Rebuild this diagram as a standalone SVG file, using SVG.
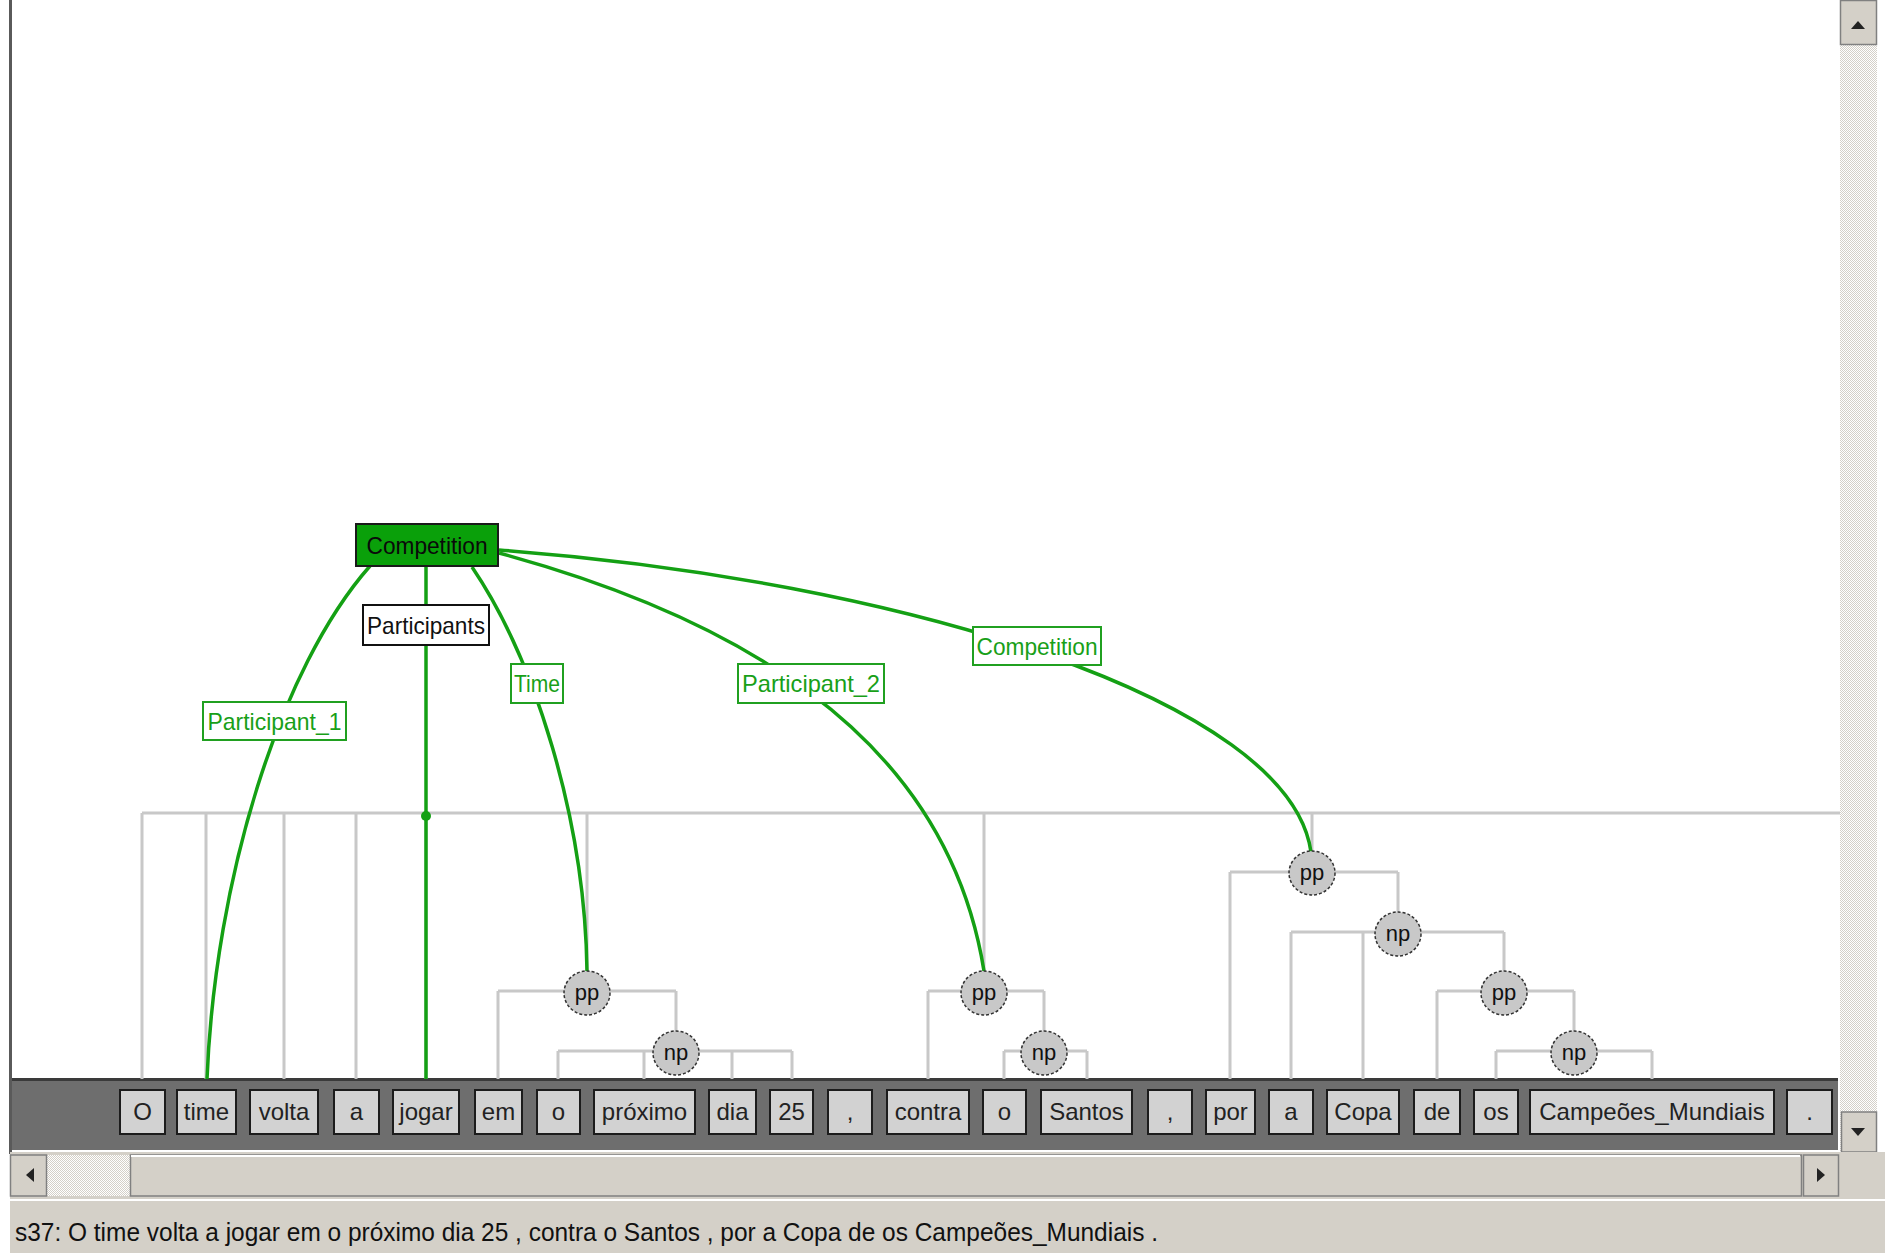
<svg xmlns="http://www.w3.org/2000/svg" width="1885" height="1253" viewBox="0 0 1885 1253">
<defs>
<pattern id="dots" width="2" height="2" patternUnits="userSpaceOnUse"><rect width="2" height="2" fill="#ffffff"/><rect width="1" height="1" fill="#d4d0c8"/><rect x="1" y="1" width="1" height="1" fill="#d4d0c8"/></pattern>
<style>
.tree{stroke:#c8c8c8;stroke-width:3;fill:none}
.fe{stroke:#14a014;stroke-width:3.5;fill:none}
.word rect{fill:#d2d2d2;stroke:#1c1c1c;stroke-width:2}
.word text{font-family:"Liberation Sans",Arial,sans-serif;font-size:24px;fill:#222;text-anchor:middle}
.cat ellipse{fill:#c8c8c8;stroke:#333;stroke-width:1.5;stroke-dasharray:3 2}
.cat text{font-family:"Liberation Sans",Arial,sans-serif;font-size:22px;fill:#111;text-anchor:middle}
.lbl rect{fill:#ffffff;stroke:#20a020;stroke-width:2}
.lbl text{font-family:"Liberation Sans",Arial,sans-serif;font-size:24px;fill:#18a018;text-anchor:middle}
.btn{fill:#d4d0c8;stroke:#808080;stroke-width:1.5}
.arr{fill:#222}
</style>
</defs>
<rect width="1885" height="1253" fill="#ffffff"/>
<!-- chrome -->
<g id="chrome">
<rect x="9" y="0" width="3" height="1154" fill="#5a5a5a"/>
<rect x="1840" y="0" width="37" height="1154" fill="url(#dots)"/>
<rect class="btn" x="1840.5" y="0.5" width="36" height="44"/>
<polygon class="arr" points="1851,29 1865,29 1858,21"/>
<rect class="btn" x="1841.5" y="1112" width="35" height="40"/>
<polygon class="arr" points="1851,1128 1865,1128 1858,1136"/>
<rect x="10" y="1152" width="1875" height="101" fill="#d4d0c8"/>
<rect x="47" y="1155" width="83" height="41" fill="url(#dots)"/>
<rect class="btn" x="10.5" y="1155" width="36" height="41"/>
<polygon class="arr" points="34,1168 34,1182 26,1175"/>
<rect class="btn" x="130.5" y="1155" width="1671" height="41"/>
<line x1="131" y1="1156" x2="1800" y2="1156" stroke="#ffffff" stroke-width="2"/>
<rect class="btn" x="1803.5" y="1155" width="35" height="41"/>
<polygon class="arr" points="1817,1168 1817,1182 1825,1175"/>
<line x1="0" y1="1200" x2="1885" y2="1200" stroke="#ffffff" stroke-width="2"/>
<text x="15" y="1241" font-family="'Liberation Sans',Arial,sans-serif" font-size="26" fill="#111" textLength="1143" lengthAdjust="spacingAndGlyphs">s37: O time volta a jogar em o próximo dia 25 , contra o Santos , por a Copa de os Campeões_Mundiais .</text>
</g>
<!-- word bar -->
<rect id="wordbar" x="12" y="1078" width="1826" height="72" fill="#6e6e6e"/>
<line x1="12" y1="1079.5" x2="1838" y2="1079.5" stroke="#3a3a3a" stroke-width="3"/>
<!-- connectors -->
<g id="connectors">
<path class="tree" d="M142 813 H1840 M142 813 V1079 M206 813 V1079 M284 813 V1079 M356 813 V1079 M426 813 V1079 M587 813 V971 M498 991 H676 M498 991 V1079 M676 991 V1031 M558 1051 H792 M558 1051 V1079 M644 1051 V1079 M732 1051 V1079 M792 1051 V1079 M984 813 V971 M928 991 H1044 M928 991 V1079 M1044 991 V1031 M1004 1051 H1087 M1004 1051 V1079 M1087 1051 V1079 M1312 813 V851 M1230 872 H1398 M1230 872 V1079 M1398 872 V912 M1291 932 H1504 M1291 932 V1079 M1363 932 V1079 M1504 932 V971 M1437 991 H1574 M1437 991 V1079 M1574 991 V1031 M1496 1051 H1652 M1496 1051 V1079 M1652 1051 V1079"/>
<path class="fe" d="M370 566 C280 668, 215 879, 207 1079"/>
<path class="fe" d="M426 566 V1079"/>
<circle cx="426" cy="816" r="5" fill="#14a014"/>
<path class="fe" d="M472 567 C535 660, 585 820, 587 971"/>
<path class="fe" d="M499 553 C820 640, 955 790, 984 971"/>
<path class="fe" d="M499 550 C900 580, 1290 700, 1311 852"/>
</g>
<!-- words -->
<g id="words" class="word">
<g id="w-O"><rect x="120" y="1090" width="45" height="44"/><text x="142.5" y="1120">O</text></g>
<g id="w-time"><rect x="177" y="1090" width="59" height="44"/><text x="206.5" y="1120">time</text></g>
<g id="w-volta"><rect x="250" y="1090" width="68" height="44"/><text x="284" y="1120">volta</text></g>
<g id="w-a1"><rect x="334" y="1090" width="45" height="44"/><text x="356.5" y="1120">a</text></g>
<g id="w-jogar"><rect x="393" y="1090" width="66" height="44"/><text x="426" y="1120">jogar</text></g>
<g id="w-em"><rect x="475" y="1090" width="47" height="44"/><text x="498.5" y="1120">em</text></g>
<g id="w-o1"><rect x="537" y="1090" width="43" height="44"/><text x="558.5" y="1120">o</text></g>
<g id="w-proximo"><rect x="594" y="1090" width="101" height="44"/><text x="644.5" y="1120">próximo</text></g>
<g id="w-dia"><rect x="709" y="1090" width="47" height="44"/><text x="732.5" y="1120">dia</text></g>
<g id="w-25"><rect x="770" y="1090" width="43" height="44"/><text x="791.5" y="1120">25</text></g>
<g id="w-comma1"><rect x="828" y="1090" width="44" height="44"/><text x="850" y="1120">,</text></g>
<g id="w-contra"><rect x="887" y="1090" width="82" height="44"/><text x="928" y="1120">contra</text></g>
<g id="w-o2"><rect x="983" y="1090" width="43" height="44"/><text x="1004.5" y="1120">o</text></g>
<g id="w-Santos"><rect x="1041" y="1090" width="91" height="44"/><text x="1086.5" y="1120">Santos</text></g>
<g id="w-comma2"><rect x="1148" y="1090" width="44" height="44"/><text x="1170" y="1120">,</text></g>
<g id="w-por"><rect x="1206" y="1090" width="49" height="44"/><text x="1230.5" y="1120">por</text></g>
<g id="w-a2"><rect x="1269" y="1090" width="44" height="44"/><text x="1291" y="1120">a</text></g>
<g id="w-Copa"><rect x="1327" y="1090" width="72" height="44"/><text x="1363" y="1120">Copa</text></g>
<g id="w-de"><rect x="1414" y="1090" width="46" height="44"/><text x="1437" y="1120">de</text></g>
<g id="w-os"><rect x="1474" y="1090" width="44" height="44"/><text x="1496" y="1120">os</text></g>
<g id="w-Campeoes"><rect x="1530" y="1090" width="244" height="44"/><text x="1652" y="1120">Campeões_Mundiais</text></g>
<g id="w-period"><rect x="1787" y="1090" width="45" height="44"/><text x="1809.5" y="1120">.</text></g>
</g>
<!-- category nodes -->
<g class="cat">
<g id="pp1"><ellipse cx="587" cy="993" rx="23" ry="22"/><text x="587" y="1000">pp</text></g>
<g id="np1"><ellipse cx="676" cy="1053" rx="23" ry="22"/><text x="676" y="1060">np</text></g>
<g id="pp2"><ellipse cx="984" cy="993" rx="23" ry="22"/><text x="984" y="1000">pp</text></g>
<g id="np2"><ellipse cx="1044" cy="1053" rx="23" ry="22"/><text x="1044" y="1060">np</text></g>
<g id="pp3"><ellipse cx="1312" cy="873" rx="23" ry="22"/><text x="1312" y="880">pp</text></g>
<g id="np3"><ellipse cx="1398" cy="934" rx="23" ry="22"/><text x="1398" y="941">np</text></g>
<g id="pp4"><ellipse cx="1504" cy="993" rx="23" ry="22"/><text x="1504" y="1000">pp</text></g>
<g id="np4"><ellipse cx="1574" cy="1053" rx="23" ry="22"/><text x="1574" y="1060">np</text></g>
</g>
<!-- frame element labels -->
<g class="lbl">
<g id="lbl-participant1"><rect x="203" y="702" width="143" height="38"/><text x="274.5" y="730" textLength="134" lengthAdjust="spacingAndGlyphs">Participant_1</text></g>
<g id="lbl-time"><rect x="511" y="664" width="52" height="39"/><text x="537" y="692" textLength="46" lengthAdjust="spacingAndGlyphs">Time</text></g>
<g id="lbl-participant2"><rect x="738" y="664" width="146" height="39"/><text x="811" y="692" textLength="138" lengthAdjust="spacingAndGlyphs">Participant_2</text></g>
<g id="lbl-competition"><rect x="973" y="627" width="128" height="38"/><text x="1037" y="655" textLength="121" lengthAdjust="spacingAndGlyphs">Competition</text></g>
</g>
<g id="lbl-participants"><rect x="363" y="605" width="126" height="40" fill="#ffffff" stroke="#111" stroke-width="2"/><text x="426" y="634" font-family="'Liberation Sans',Arial,sans-serif" font-size="24" fill="#111" text-anchor="middle" textLength="118" lengthAdjust="spacingAndGlyphs">Participants</text></g>
<g id="frame-competition"><rect x="356" y="524" width="142" height="42" fill="#0aa00a" stroke="#1a1a1a" stroke-width="2"/><text x="427" y="554" font-family="'Liberation Sans',Arial,sans-serif" font-size="24" fill="#0a0a0a" text-anchor="middle" textLength="121" lengthAdjust="spacingAndGlyphs">Competition</text></g>
</svg>
